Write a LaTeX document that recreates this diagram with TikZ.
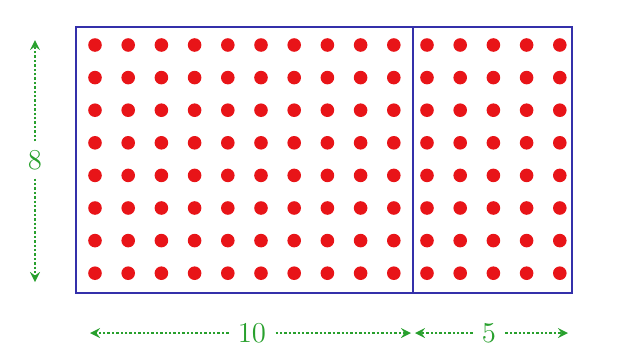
\documentclass[tikz,border=0pt]{standalone}
\usetikzlibrary{arrows}
\definecolor{boxblue}{RGB}{52,48,170}
\definecolor{dotred}{RGB}{232,20,24}
\definecolor{measgreen}{RGB}{40,160,45}
\tikzset{
    meas/.style={measgreen, densely dotted, line width=1.2pt},
    measlabel/.style={measgreen, font=\Large, inner sep=4.5pt},
}
\begin{document}
\begin{tikzpicture}[>=stealth, x=0.5pt, y=0.5pt]
    \useasboundingbox (0,0) rectangle (633,360);
    
    \draw[boxblue, line width=1.2pt] (76,67) rectangle (572,333);
    \draw[boxblue, line width=1.2pt] (413,67) -- (413,333);
    
    
    \foreach \i in {0,...,14}
    {
        \foreach \j in {0,...,7}
        {
            \fill[dotred] (95+33.2*\i, 315-32.6*\j) circle (6.8);
        }
    }
    
    
    \node[measlabel] (eight) at (35,200) {$8$};
    \coordinate (vtop) at (35,320);
    \coordinate (vbot) at (35,78);
    \draw[meas, ->] (eight) -- (vtop);
    \draw[meas, ->] (eight) -- (vbot);
    
    \node[measlabel] (ten) at (252,27) {$10$};
    \coordinate (bleft) at (90,27);
    \coordinate (bmid) at (411,27);
    \draw[meas, ->] (ten) -- (bleft);
    \draw[meas, ->] (ten) -- (bmid);
    
    \node[measlabel] (five) at (489,27) {$5$};
    \coordinate (bmidr) at (415,27);
    \coordinate (bright) at (568,27);
    \draw[meas, ->] (five) -- (bmidr);
    \draw[meas, ->] (five) -- (bright);
    
\end{tikzpicture}
\end{document}
